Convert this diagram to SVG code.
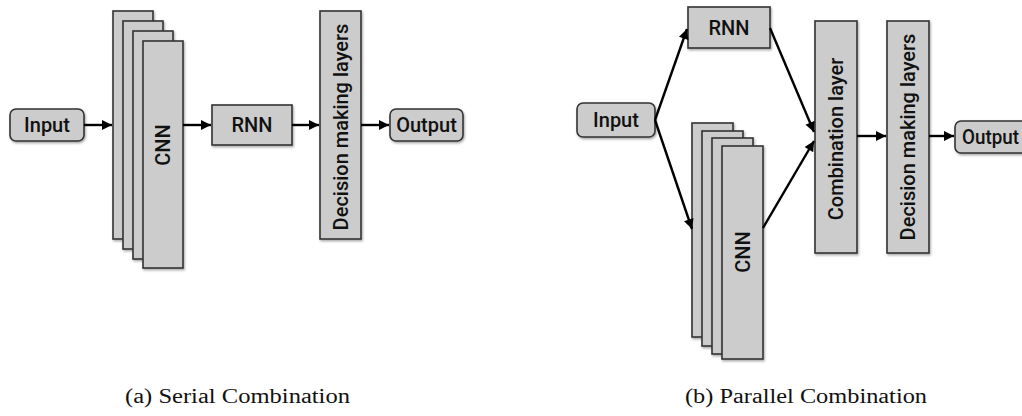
<svg xmlns="http://www.w3.org/2000/svg" width="1022" height="416" viewBox="0 0 1022 416">
<defs>
<filter id="sh" x="-20%" y="-20%" width="140%" height="140%">
<feDropShadow dx="1" dy="1.5" stdDeviation="1" flood-color="#000" flood-opacity="0.35"/>
</filter>
<marker id="ah" viewBox="0 0 10 10" refX="10" refY="5" markerWidth="13" markerHeight="10" markerUnits="userSpaceOnUse" orient="auto">
<path d="M0,0 L10,5 L0,10 Z" fill="#000"/>
</marker>
<style>
.box{fill:#cccccc;stroke:#333;stroke-width:1.6;filter:url(#sh)}
.lbl{font-family:Roboto,"Liberation Sans",sans-serif;font-weight:500;font-size:20px;fill:#111;text-anchor:middle;dominant-baseline:central}
.cap{font-family:"Liberation Serif","DejaVu Serif",serif;font-size:20px;fill:#111}
.edge{stroke:#000;stroke-width:2.4;fill:none;marker-end:url(#ah)}
</style>
</defs>
<rect width="1022" height="416" fill="#fff"/>

<!-- Left: serial -->
<g id="a-input"><rect class="box" x="10" y="109" width="74" height="32" rx="6"/><text class="lbl" x="47" y="125">Input</text></g>
<g id="a-cnn">
<rect class="box" x="113" y="11" width="40" height="228"/>
<rect class="box" x="123" y="21" width="40" height="228"/>
<rect class="box" x="133" y="31" width="40" height="228"/>
<rect class="box" x="143" y="41" width="40" height="227"/>
<text class="lbl" transform="translate(163,145) rotate(-90)">CNN</text>
</g>
<g id="a-rnn"><rect class="box" x="212" y="105" width="80" height="40"/><text class="lbl" x="252" y="125">RNN</text></g>
<g id="a-decision"><rect class="box" x="320" y="11" width="41" height="228"/><text class="lbl" transform="translate(341,127) rotate(-90)">Decision making layers</text></g>
<g id="a-output"><rect class="box" x="390" y="109" width="73" height="32" rx="6"/><text class="lbl" x="426.5" y="125">Output</text></g>

<!-- Right: parallel -->
<g id="b-input"><rect class="box" x="577" y="103" width="78" height="34" rx="6"/><text class="lbl" x="616" y="120">Input</text></g>
<g id="b-rnn"><rect class="box" x="688" y="7" width="82" height="41"/><text class="lbl" x="729" y="28">RNN</text></g>
<g id="b-cnn">
<rect class="box" x="692" y="123" width="41" height="214"/>
<rect class="box" x="702" y="131" width="41" height="215"/>
<rect class="box" x="712" y="138" width="41" height="216"/>
<rect class="box" x="722" y="146" width="41" height="213"/>
<text class="lbl" transform="translate(742.5,252) rotate(-90)">CNN</text>
</g>
<g id="b-combination"><rect class="box" x="815" y="21" width="42" height="232"/><text class="lbl" transform="translate(836,139) rotate(-90)">Combination layer</text></g>
<g id="b-decision"><rect class="box" x="887" y="21" width="42" height="232"/><text class="lbl" transform="translate(908,137) rotate(-90)">Decision making layers</text></g>
<g id="b-output"><rect class="box" x="955" y="121" width="80" height="32" rx="6"/><text class="lbl" x="962" y="137" style="text-anchor:start" textLength="57" lengthAdjust="spacingAndGlyphs">Output</text></g>

<g id="connectors">
<line class="edge" x1="84" y1="125" x2="112" y2="125"/>
<line class="edge" x1="183" y1="125" x2="211" y2="125"/>
<line class="edge" x1="292" y1="125" x2="319" y2="125"/>
<line class="edge" x1="361" y1="125" x2="389" y2="125"/>
<line class="edge" x1="655" y1="120" x2="687" y2="29"/>
<line class="edge" x1="655" y1="120" x2="692" y2="229"/>
<line class="edge" x1="770" y1="28" x2="814" y2="132"/>
<line class="edge" x1="763" y1="228" x2="814" y2="141"/>
<line class="edge" x1="857" y1="136" x2="886" y2="136"/>
<line class="edge" x1="929" y1="136" x2="954" y2="136"/>
</g>

<text class="cap" x="125" y="403" textLength="225" lengthAdjust="spacingAndGlyphs">(a) Serial Combination</text>
<text class="cap" x="685" y="403" textLength="242" lengthAdjust="spacingAndGlyphs">(b) Parallel Combination</text>
</svg>
